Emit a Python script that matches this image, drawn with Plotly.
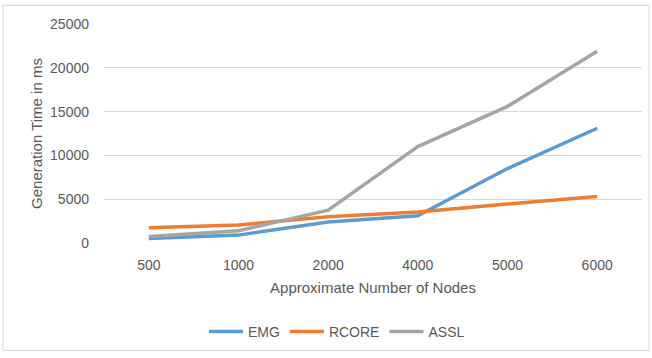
import plotly.graph_objects as go

# Node counts (categorical x axis) and generation times in ms
nodes = ["500", "1000", "2000", "4000", "5000", "6000"]
emg = [500, 900, 2400, 3100, 8500, 13100]
rcore = [1750, 2050, 3000, 3550, 4450, 5300]
assl = [750, 1400, 3750, 11000, 15600, 21900]
y_ticks = [0, 5000, 10000, 15000, 20000, 25000]
y_tick_text = ["0", "5000", "10000", "15000", "20000", "25000"]

W, H = 652, 358
L, R, T, B = 104, 10, 24, 112
pw, ph = W - L - R, H - T - B

FONT = "Liberation Sans"
GREY_TXT = "#595959"

series = [
    ("EMG", emg, "#5B9BD5"),
    ("RCORE", rcore, "#ED7D31"),
    ("ASSL", assl, "#A5A5A5"),
]

fig = go.Figure()
for name, vals, col in series:
    fig.add_trace(go.Scatter(
        x=nodes, y=vals, name=name, mode="lines",
        line=dict(color=col, width=3.5),
    ))

def px_x(p):
    return (p - L) / pw

def px_y(p):
    return (T + ph - p) / ph

fig.update_layout(
    width=W, height=H,
    margin=dict(l=L, r=R, t=T, b=B),
    paper_bgcolor="white", plot_bgcolor="white",
    font=dict(family=FONT, size=14, color=GREY_TXT),
    showlegend=True,
    legend=dict(
        orientation="h", x=px_x(337), xanchor="center",
        y=px_y(336), yanchor="middle",
        font=dict(size=14, color=GREY_TXT),
        itemwidth=34, tracegroupgap=0,
    ),
    xaxis=dict(
        type="category", showgrid=False, zeroline=False,
        showline=False, ticks="", ticklabelstandoff=12,
        tickfont=dict(size=14),
        title=dict(text="Approximate Number of Nodes", font=dict(size=15, color=GREY_TXT), standoff=10),
        range=[-0.5, 5.5],
    ),
    yaxis=dict(
        range=[0, 25000], tickvals=y_ticks, ticktext=y_tick_text,
        showgrid=True, gridcolor="#D9D9D9", gridwidth=1,
        zeroline=False, showline=False, ticks="",
        ticklabelstandoff=14, tickfont=dict(size=14),
        title=dict(text="Generation Time in ms", font=dict(size=15, color=GREY_TXT), standoff=3),
    ),
    shapes=[dict(
        type="rect", xref="paper", yref="paper",
        x0=px_x(3), x1=px_x(649), y0=px_y(355), y1=px_y(5),
        line=dict(color="#D9D9D9", width=1), fillcolor="rgba(0,0,0,0)",
        layer="below",
    )],
)

fig.write_html("out.html")
